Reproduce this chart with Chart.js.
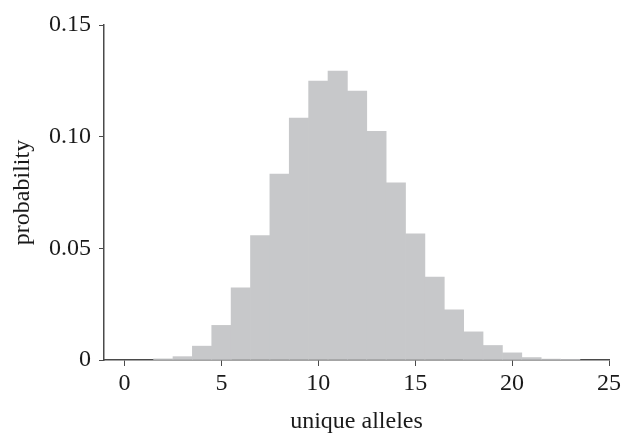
<!DOCTYPE html>
<html>
<head>
<meta charset="utf-8">
<script src="https://cdn.jsdelivr.net/npm/chart.js@4.4.1/dist/chart.umd.min.js"></script>
<style>
  html, body { margin: 0; padding: 0; background: #ffffff; }
  #wrap { width: 624px; height: 436px; position: relative; }
</style>
</head>
<body>
<div id="wrap"><canvas id="c" width="624" height="436"></canvas></div>
<script>
// Number of unique alleles (bin centres)
const uniqueAlleles = [2, 3, 4, 5, 6, 7, 8, 9, 10, 11, 12, 13, 14, 15, 16, 17, 18, 19, 20, 21, 22, 23];
// Probability of each count
const probability = [0.0005, 0.0015, 0.0062, 0.0155, 0.0323, 0.0557, 0.0832, 0.1083, 0.1249, 0.1294, 0.1204,
                     0.1024, 0.0793, 0.0565, 0.0371, 0.0225, 0.0126, 0.0065, 0.0032, 0.0011, 0.0004, 0.0001];
const xTicks = [0, 5, 10, 15, 20, 25];
const yTicks = [0, 0.05, 0.10, 0.15];
const xTitle = 'unique alleles';
const yTitle = 'probability';

const FONT = 'Liberation Serif, Times New Roman, serif';
const AXIS = '#4a4a4a';
const TEXT = '#1a1a1a';

new Chart(document.getElementById('c'), {
  type: 'bar',
  data: {
    datasets: [{
      data: uniqueAlleles.map((x, i) => ({ x: x, y: probability[i] })),
      backgroundColor: '#c7c8ca',
      borderWidth: 0,
      barPercentage: 1.0,
      categoryPercentage: 1.0
    }]
  },
  options: {
    responsive: false,
    animation: false,
    devicePixelRatio: 1,
    layout: { padding: { top: 25, right: 15, left: 0, bottom: 0 } },
    plugins: { legend: { display: false }, tooltip: { enabled: false } },
    scales: {
      x: {
        type: 'linear',
        min: -1.06,
        max: 25,
        offset: false,
        afterBuildTicks: (s) => { s.ticks = xTicks.map(v => ({ value: v })); },
        ticks: { color: TEXT, font: { family: FONT, size: 24 }, padding: 3, maxRotation: 0 },
        grid: { display: true, offset: false, drawOnChartArea: false, drawTicks: true, tickLength: 6, color: AXIS, lineWidth: 1 },
        border: { display: true, color: AXIS, width: 1.5 },
        title: { display: true, text: xTitle, color: TEXT, font: { family: FONT, size: 24 }, padding: { top: 6, bottom: 0 } },
        afterFit: (s) => { s.height = 76; }
      },
      y: {
        type: 'linear',
        min: 0,
        max: 0.15,
        afterBuildTicks: (s) => { s.ticks = yTicks.map(v => ({ value: v })); },
        ticks: {
          color: TEXT, font: { family: FONT, size: 24 }, padding: 8,
          callback: (v) => v === 0 ? '0' : v.toFixed(2)
        },
        grid: { display: true, offset: false, drawOnChartArea: false, drawTicks: true, tickLength: 5, color: AXIS, lineWidth: 1 },
        border: { display: true, color: AXIS, width: 1.5 },
        title: { display: true, text: yTitle, color: TEXT, font: { family: FONT, size: 24 }, padding: { top: 8, bottom: 0 } },
        afterFit: (s) => { s.width = 104; }
      }
    }
  }
});
</script>
</body>
</html>
